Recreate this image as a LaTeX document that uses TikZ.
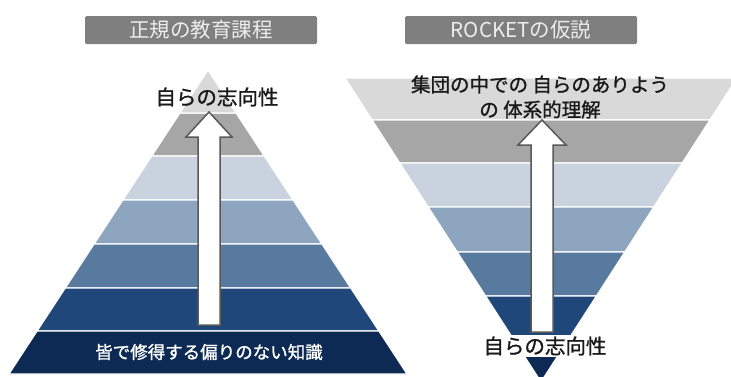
\documentclass[tikz,border=0pt]{standalone}
\usepackage{fontspec}
\newfontfamily\jp{Noto Sans CJK JP}
\newfontfamily\jpheavy{Noto Sans CJK JP}[FakeBold=1.2]
\definecolor{bandA}{HTML}{D9D9D9}
\definecolor{bandB}{HTML}{A6A6A6}
\definecolor{bandC}{HTML}{C8D3DF}
\definecolor{bandD}{HTML}{8EA5C0}
\definecolor{bandE}{HTML}{587A9F}
\definecolor{bandF}{HTML}{1F477A}
\definecolor{bandG}{HTML}{0C2A54}
\definecolor{titlebg}{HTML}{7F7F7F}
\definecolor{titlefg}{HTML}{EDEDED}
\definecolor{arrowline}{HTML}{595959}
\begin{document}
\begin{tikzpicture}[x=1pt,y=-1pt,
  bandsep/.style={draw=white,line width=1.3pt},
  titlebox/.style={fill=titlebg,rounded corners=1.5pt,minimum width=232pt,minimum height=28pt,inner sep=0pt,text=titlefg,font=\jp\fontsize{20.5}{22}\selectfont},
  label/.style={inner sep=1pt,text=black!90,font=\jpheavy\fontsize{20.5}{25}\selectfont,align=center},
  uparrow/.style={draw=arrowline,fill=white,line width=1.5pt,line join=miter}]
\useasboundingbox (0,0) rectangle (731,376);
\begin{scope}
\clip (0,0) rectangle (731,376);
% left pyramid
\foreach \ya/\yb/\c in {113/156/bandB,156/200/bandC,200/244/bandD,244/288/bandE,288/331/bandF,331/374/bandG}{
  \filldraw[bandsep,fill=\c] ({208-(\ya-70)*0.655},\ya) -- ({208+(\ya-70)*0.655},\ya) -- ({208+(\yb-70)*0.655},\yb) -- ({208-(\yb-70)*0.655},\yb) -- cycle;
}
\filldraw[bandsep,fill=bandA] (208,70) -- ({208+43*0.655},113) -- ({208-43*0.655},113) -- cycle;
% right inverted pyramid
\foreach \ya/\yb/\c in {78/120/bandA,120/163/bandB,163/207/bandC,207/252/bandD,252/296/bandE,296/340/bandF}{
  \filldraw[bandsep,fill=\c] ({541-(382-\ya)*0.645},\ya) -- ({541+(382-\ya)*0.645},\ya) -- ({541+(382-\yb)*0.645},\yb) -- ({541-(382-\yb)*0.645},\yb) -- cycle;
}
\filldraw[bandsep,fill=bandG] ({541-42*0.645},340) -- ({541+42*0.645},340) -- (541,382) -- cycle;
\end{scope}
% arrows
\draw[uparrow] (209,112) -- (232,137) -- (220,137) -- (220,325) -- (198,325) -- (198,137) -- (186,137) -- cycle;
\draw[uparrow] (542,120) -- (566,145) -- (553,145) -- (553,332) -- (531,332) -- (531,145) -- (518,145) -- cycle;
% titles
\node[titlebox] (t1) at (201,30) {正規の教育課程};
\node[titlebox] (t2) at (521,30) {ROCKETの仮説};
% labels
\node[label] (l1) at (217,97) {自らの志向性};
\node[label,text=white,font=\jpheavy\fontsize{17.5}{20}\selectfont] (l2) at (209,352) {皆で修得する偏りのない知識};
\node[label,font=\jpheavy\fontsize{19.5}{25}\selectfont] (r1) at (540,97) {集団の中での 自らのありよう\\の 体系的理解};
\node[label,fill=white,inner ysep=1.5pt] (r2) at (545,346) {自らの志向性};
\end{tikzpicture}
\end{document}
